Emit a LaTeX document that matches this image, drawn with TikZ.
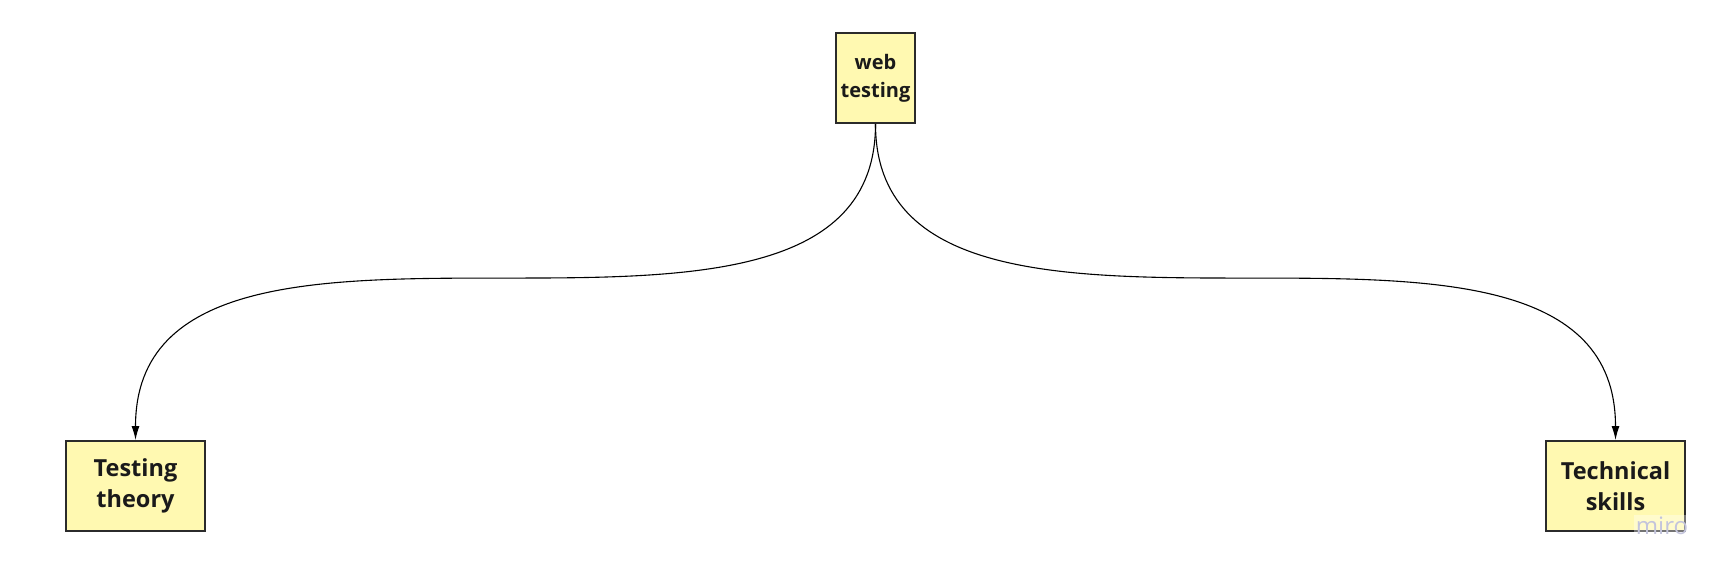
\documentclass[tikz,border=0pt]{standalone}
\usepackage{fontspec}
\setmainfont{Open Sans}
\usetikzlibrary{arrows.meta}
\definecolor{sticky}{HTML}{FFF9B1}
\definecolor{edgec}{HTML}{2B2B2B}
\definecolor{ink}{HTML}{1A1A1A}
\definecolor{wm}{HTML}{C3C4DC}
\begin{document}
\begin{tikzpicture}[x=1pt,y=-1pt,
  box/.style={draw=edgec,line width=2pt,fill=sticky,inner sep=0pt,align=center,text=ink},
  small/.style={font=\bfseries\fontsize{20}{28}\selectfont},
  big/.style={font=\bfseries\fontsize{23.5}{31}\selectfont},
  link/.style={draw=black,line width=1.1pt,-{Latex[length=14pt,width=8pt]}}]
\useasboundingbox (0,0) rectangle (1731,577);
\fill[white] (0,0) rectangle (1731,577);
\node[box,small,minimum width=79pt,minimum height=90pt] (web) at (875.5,78) {web\\testing};
\node[box,big,minimum width=139pt,minimum height=90pt] (theory) at (135.5,486) {Testing\\theory};
\node[box,big,minimum width=139pt,minimum height=90pt] (skills) at (1615.5,486) {Technical\\skills};
\draw[link] (web.south) .. controls (875.5,430) and (135.5,128) .. (theory.north);
\draw[link] (web.south) .. controls (875.5,430) and (1615.5,128) .. (skills.north);
\node[fill=white,fill opacity=0.35,text opacity=1,text=wm,inner sep=2pt,font=\fontsize{24}{24}\selectfont] (miro) at (1662,526) {miro};
\end{tikzpicture}
\end{document}
